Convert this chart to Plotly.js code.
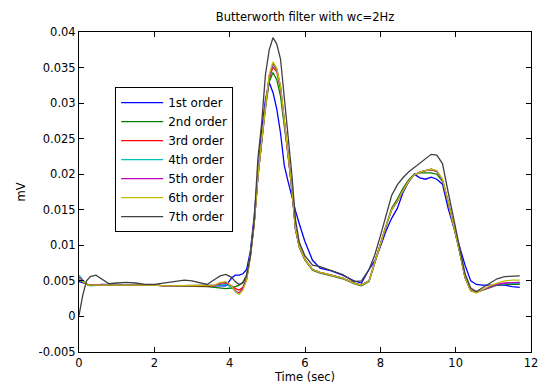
<!DOCTYPE html>
<html>
<head>
<meta charset="utf-8">
<script src="https://cdn.plot.ly/plotly-3.0.1.min.js"></script>
<style>html,body{margin:0;padding:0;background:#fff;}#chart{width:541px;height:385px;}</style>
</head>
<body>
<div id="chart"></div>
<script>
var time = [0,0.1,0.2,0.3,0.45,0.6,0.8,1.0,1.25,1.5,1.75,2.0,2.3,2.6,2.8,3.0,3.2,3.4,3.6,3.75,3.9,4.05,4.15,4.25,4.35,4.45,4.55,4.65,4.75,4.85,4.95,5.05,5.15,5.25,5.35,5.45,5.55,5.65,5.75,5.85,6.0,6.2,6.4,6.7,7.0,7.3,7.5,7.7,7.85,8.0,8.15,8.3,8.45,8.6,8.75,8.9,9.05,9.2,9.35,9.5,9.65,9.8,9.95,10.1,10.25,10.4,10.55,10.7,10.9,11.1,11.3,11.5,11.7];

var order1 = [0.0049,0.0047,0.0045,0.0044,0.0044,0.0045,0.0045,0.0045,0.0045,0.0044,0.0044,0.0044,0.0043,0.0043,0.0043,0.0043,0.0042,0.0042,0.0042,0.0042,0.0043,0.0054,0.0058,0.0058,0.0060,0.0066,0.0092,0.0140,0.0205,0.0262,0.0305,0.0329,0.0315,0.0292,0.0258,0.0212,0.0190,0.0168,0.0148,0.0130,0.0105,0.0079,0.0068,0.0064,0.0058,0.0050,0.0047,0.0066,0.0078,0.0098,0.0120,0.0138,0.0152,0.0174,0.0189,0.0200,0.0195,0.0193,0.0196,0.0193,0.0186,0.0152,0.0125,0.0098,0.0072,0.0050,0.0045,0.0044,0.0044,0.0045,0.0044,0.0042,0.0041];
var order2 = [0.0052,0.0048,0.0045,0.0044,0.0044,0.0044,0.0045,0.0045,0.0045,0.0044,0.0044,0.0044,0.0043,0.0043,0.0043,0.0043,0.0042,0.0042,0.0041,0.0040,0.0039,0.0040,0.0042,0.0044,0.0048,0.0058,0.0088,0.0132,0.0197,0.0245,0.0292,0.0330,0.0343,0.0333,0.0310,0.0268,0.0228,0.0178,0.0122,0.0097,0.0079,0.0065,0.0061,0.0057,0.0053,0.0046,0.0043,0.0049,0.0075,0.0102,0.0127,0.0152,0.0165,0.0180,0.0192,0.0200,0.0202,0.0202,0.0202,0.0200,0.0190,0.0160,0.0127,0.0092,0.0054,0.0036,0.0034,0.0037,0.0041,0.0044,0.0045,0.0045,0.0045];
var order3 = [0.0053,0.0049,0.0045,0.0044,0.0044,0.0044,0.0045,0.0045,0.0045,0.0044,0.0044,0.0044,0.0043,0.0043,0.0043,0.0043,0.0043,0.0043,0.0043,0.0045,0.0046,0.0043,0.0039,0.0037,0.0041,0.0054,0.0085,0.0130,0.0197,0.0247,0.0296,0.0334,0.0351,0.0344,0.0320,0.0274,0.0231,0.0180,0.0122,0.0098,0.0080,0.0066,0.0062,0.0058,0.0054,0.0047,0.0044,0.0050,0.0076,0.0102,0.0127,0.0150,0.0162,0.0177,0.0190,0.0199,0.0203,0.0205,0.0206,0.0204,0.0192,0.0161,0.0128,0.0093,0.0055,0.0037,0.0034,0.0037,0.0042,0.0045,0.0046,0.0047,0.0047];
var order4 = [0.0058,0.0051,0.0045,0.0043,0.0043,0.0044,0.0045,0.0045,0.0045,0.0044,0.0044,0.0044,0.0043,0.0043,0.0043,0.0043,0.0043,0.0043,0.0043,0.0044,0.0045,0.0041,0.0035,0.0032,0.0039,0.0053,0.0085,0.0130,0.0197,0.0247,0.0297,0.0337,0.0355,0.0347,0.0322,0.0275,0.0232,0.0180,0.0122,0.0098,0.0080,0.0066,0.0062,0.0058,0.0054,0.0047,0.0044,0.0050,0.0076,0.0102,0.0127,0.0150,0.0162,0.0177,0.0190,0.0199,0.0203,0.0205,0.0207,0.0204,0.0192,0.0161,0.0128,0.0093,0.0055,0.0037,0.0034,0.0037,0.0042,0.0045,0.0046,0.0047,0.0047];
var order5 = [0.0055,0.0050,0.0045,0.0044,0.0044,0.0044,0.0045,0.0045,0.0045,0.0044,0.0044,0.0044,0.0043,0.0043,0.0043,0.0043,0.0043,0.0043,0.0044,0.0047,0.0048,0.0043,0.0036,0.0033,0.0039,0.0052,0.0085,0.0130,0.0197,0.0247,0.0298,0.0338,0.0356,0.0348,0.0323,0.0276,0.0232,0.0180,0.0122,0.0098,0.0080,0.0066,0.0062,0.0058,0.0054,0.0047,0.0044,0.0050,0.0076,0.0102,0.0127,0.0150,0.0162,0.0177,0.0190,0.0199,0.0203,0.0205,0.0207,0.0204,0.0192,0.0161,0.0128,0.0093,0.0055,0.0037,0.0034,0.0037,0.0042,0.0045,0.0047,0.0048,0.0048];
var order6 = [0.0053,0.0049,0.0045,0.0044,0.0044,0.0044,0.0045,0.0045,0.0045,0.0044,0.0044,0.0044,0.0043,0.0043,0.0043,0.0043,0.0043,0.0043,0.0044,0.0048,0.0049,0.0043,0.0035,0.0031,0.0037,0.0051,0.0085,0.0130,0.0197,0.0248,0.0299,0.0340,0.0358,0.0349,0.0324,0.0277,0.0233,0.0181,0.0123,0.0098,0.0080,0.0066,0.0062,0.0058,0.0054,0.0047,0.0044,0.0050,0.0076,0.0102,0.0127,0.0150,0.0162,0.0177,0.0190,0.0199,0.0203,0.0205,0.0207,0.0205,0.0193,0.0162,0.0129,0.0093,0.0055,0.0036,0.0033,0.0037,0.0043,0.0047,0.0050,0.0051,0.0051];
var order7 = [0.0001,0.0030,0.0050,0.0056,0.0058,0.0053,0.0046,0.0047,0.0048,0.0047,0.0045,0.0045,0.0047,0.0050,0.0051,0.0050,0.0047,0.0045,0.0052,0.0057,0.0059,0.0055,0.0049,0.0045,0.0047,0.0058,0.0085,0.0135,0.0222,0.0272,0.0340,0.0375,0.0392,0.0383,0.0362,0.0310,0.0252,0.0200,0.0135,0.0104,0.0085,0.0072,0.0070,0.0065,0.0059,0.0049,0.0050,0.0066,0.0086,0.0113,0.0143,0.0170,0.0185,0.0195,0.0203,0.0209,0.0216,0.0222,0.0228,0.0227,0.0215,0.0175,0.0135,0.0097,0.0060,0.0040,0.0035,0.0040,0.0047,0.0053,0.0056,0.0057,0.0057];

var seriesNames = ['1st order','2nd order','3rd order','4th order','5th order','6th order','7th order'];
var seriesColors = ['#0000ff','#008000','#ff0000','#00bfbf','#bf00bf','#bfbf00','#404040'];
var seriesData = [order1, order2, order3, order4, order5, order6, order7];

var xTicks = [0,2,4,6,8,10,12];
var yTickVals = [-0.005,0,0.005,0.01,0.015,0.02,0.025,0.03,0.035,0.04];
var yTickText = ['-0.005','0','0.005','0.01','0.015','0.02','0.025','0.03','0.035','0.04'];

var traces = seriesData.map(function(v, i){
  return {x: time, y: v, type: 'scatter', mode: 'lines', name: seriesNames[i],
          line: {color: seriesColors[i], width: 1.3}};
});

var fontFam = 'DejaVu Sans, Arial, sans-serif';
var layout = {
  width: 541, height: 385,
  margin: {l: 79, r: 10, t: 32, b: 33},
  paper_bgcolor: '#fff', plot_bgcolor: '#fff',
  font: {family: fontFam, size: 11.5, color: '#000'},
  title: {text: 'Butterworth filter with wc=2Hz', font: {family: fontFam, size: 11.5, color: '#000'},
          x: 0.5, xref: 'paper', xanchor: 'center', y: 1 - 17/385, yref: 'container', yanchor: 'middle'},
  showlegend: true,
  legend: {x: 0.08, y: 0.828, xanchor: 'left', yanchor: 'top', bgcolor: '#fff',
           bordercolor: '#000', borderwidth: 1, itemwidth: 42,
           font: {family: fontFam, size: 12, color: '#000'}},
  xaxis: {range: [0, 12], tickvals: xTicks, ticktext: xTicks.map(String), ticks: 'inside', ticklen: 5,
          tickcolor: '#000', showline: true, linecolor: '#000', linewidth: 1, mirror: 'ticks',
          showgrid: false, zeroline: false,
          title: {text: 'Time (sec)', font: {family: fontFam, size: 11.5, color: '#000'}, standoff: 3}},
  yaxis: {range: [-0.005, 0.04], tickvals: yTickVals, ticktext: yTickText, ticks: 'inside', ticklen: 5,
          tickcolor: '#000', showline: true, linecolor: '#000', linewidth: 1, mirror: 'ticks',
          showgrid: false, zeroline: false,
          title: {text: 'mV', font: {family: fontFam, size: 11.5, color: '#000'}, standoff: 10}},
  hovermode: false
};

Plotly.newPlot('chart', traces, layout, {staticPlot: true, displayModeBar: false});
</script>
</body>
</html>
